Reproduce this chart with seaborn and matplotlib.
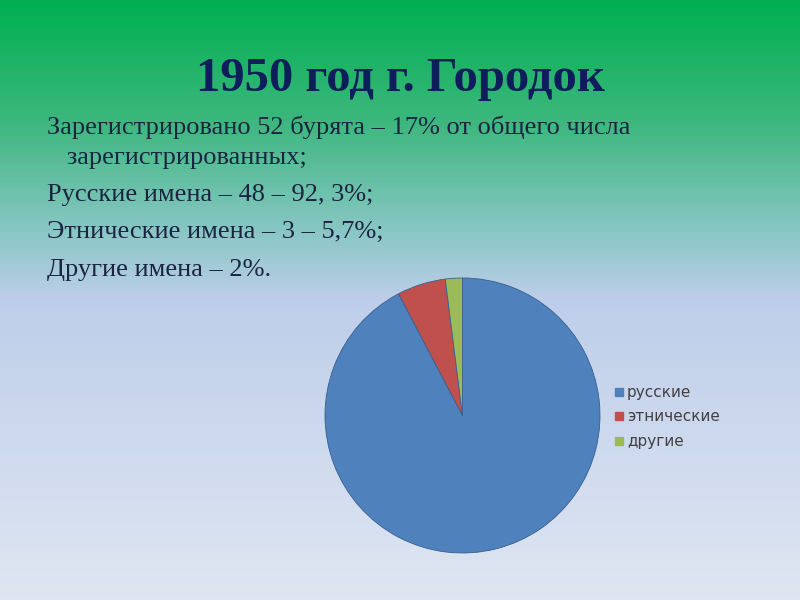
import matplotlib.pyplot as plt
import numpy as np
import seaborn as sns
from matplotlib.colors import LinearSegmentedColormap

# pie data
labels = ['русские', 'этнические', 'другие']
shares = [92.3, 5.7, 2.0]
colors = ['#4F81BD', '#C0504D', '#9BBB59']

title = '1950 год г. Городок'
text_lines = [
    'Зарегистрировано 52 бурята – 17% от общего числа',
    '   зарегистрированных;',
    'Русские имена – 48 – 92, 3%;',
    'Этнические имена – 3 – 5,7%;',
    'Другие имена – 2%.',
]

sns.set_style('white')
plt.rcParams['font.family'] = ['DejaVu Sans']

fig = plt.figure(figsize=(8, 6), dpi=100)

# --- background gradient ---
bg = fig.add_axes([0, 0, 1, 1])
stops = [
    (0.00, (0 / 255, 176 / 255, 80 / 255)),
    (0.20, (60 / 255, 183 / 255, 125 / 255)),
    (0.38, (135 / 255, 198 / 255, 195 / 255)),
    (0.50, (190 / 255, 206 / 255, 234 / 255)),
    (1.00, (223 / 255, 230 / 255, 242 / 255)),
]
cmap = LinearSegmentedColormap.from_list('bg', stops)
grad = np.linspace(0, 1, 600).reshape(-1, 1)
bg.imshow(grad, aspect='auto', cmap=cmap, extent=[0, 1, 0, 1], origin='upper')
bg.set_xlim(0, 1)
bg.set_ylim(0, 1)
bg.axis('off')

# --- texts ---
fig.text(0.5, 1 - 79 / 600, title, ha='center', va='center',
         fontsize=35, fontweight='bold', color='#0E1E5B', family='Liberation Serif')
ys = [127, 158, 195, 232, 270]
for line, y in zip(text_lines, ys):
    fig.text(47 / 800, 1 - y / 600, line, ha='left', va='center',
             fontsize=19, color='#1B2440', family='Liberation Serif')

# --- pie ---
ax = fig.add_axes([325 / 800, 47 / 600, 275 / 800, 275 / 600])
wedges, _ = ax.pie(shares, colors=colors, startangle=90, counterclock=False,
                   radius=1, wedgeprops=dict(linewidth=0.6, edgecolor='#3A5F8F'))
ax.set_xlim(-1, 1)
ax.set_ylim(-1, 1)
ax.set_aspect('equal')

handles = [plt.Line2D([], [], marker='s', linestyle='', markersize=6,
                      markerfacecolor=c, markeredgecolor=c) for c in colors]
fig.legend(handles, labels, loc='upper left', bbox_to_anchor=(613 / 800, 1 - 385 / 600),
           frameon=False, fontsize=11, handletextpad=0.1, handlelength=0.8,
           labelspacing=0.62, labelcolor='#404040', borderaxespad=0, borderpad=0)

fig.savefig('out.png', dpi=100)
